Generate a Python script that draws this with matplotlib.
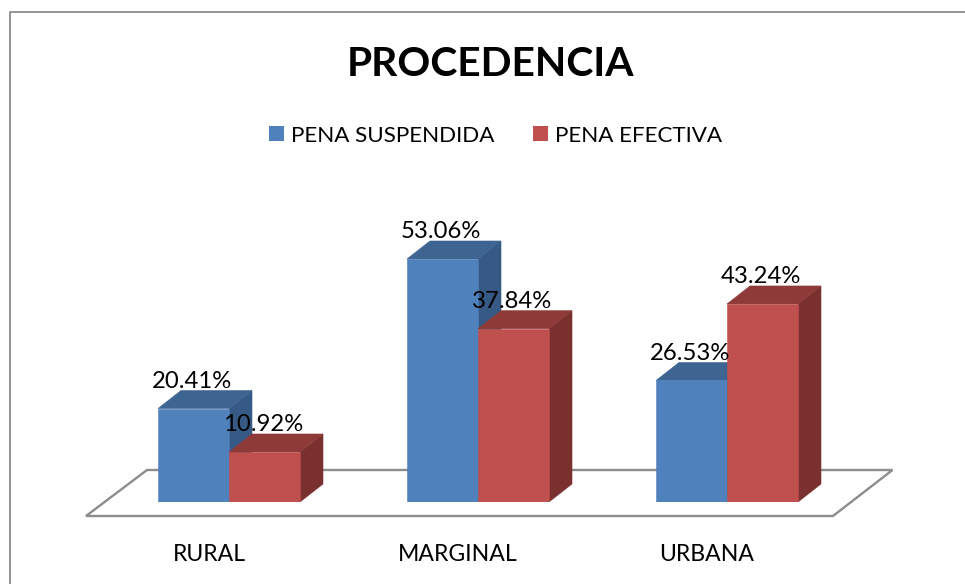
import matplotlib
matplotlib.use("Agg")
import matplotlib.pyplot as plt
from matplotlib.patches import Polygon, Patch
from matplotlib.lines import Line2D

categories = ["RURAL", "MARGINAL", "URBANA"]
suspendida = [20.41, 53.06, 26.53]
efectiva = [10.92, 37.84, 43.24]
series_names = ["PENA SUSPENDIDA", "PENA EFECTIVA"]
title = "PROCEDENCIA"

W, H = 965, 584
PX_PER_CAT = 249.0
PX_PER_PCT = 4.58
X0_PX = 229.0
BASE_PX = 502.0
FONT = "Lato"

plt.rcParams["font.family"] = [FONT, "DejaVu Sans"]
fig = plt.figure(figsize=(W / 100, H / 100), dpi=100, facecolor="white")
ax = fig.add_axes([0, (H - BASE_PX) / H, 1, BASE_PX / H])
ax.set_xlim(-X0_PX / PX_PER_CAT, (W - X0_PX) / PX_PER_CAT)
ax.set_ylim(0, BASE_PX / PX_PER_PCT)
ax.patch.set_visible(False)
for s in ax.spines.values():
    s.set_visible(False)
ax.yaxis.set_visible(False)

bw = 71 / PX_PER_CAT
dx = 23 / PX_PER_CAT
dy = 18 / PX_PER_PCT


def px_x(p):
    return (p - X0_PX) / PX_PER_CAT


def px_y(p):
    return (BASE_PX - p) / PX_PER_PCT


floor = [(px_x(86), px_y(516)), (px_x(833), px_y(516)), (px_x(892.5), px_y(470)), (px_x(147), px_y(470))]
ax.add_patch(Polygon(floor, closed=True, fc="white", ec="#8c8c8c", lw=1.7, clip_on=False, zorder=1))


def bar3d(x, v, front, top, side, z):
    ax.add_patch(Polygon([(x + bw, 0), (x + bw + dx, dy), (x + bw + dx, v + dy), (x + bw, v)],
                         fc=side, ec=side, lw=0.4, zorder=z))
    ax.add_patch(Polygon([(x, v), (x + dx, v + dy), (x + bw + dx, v + dy), (x + bw, v)],
                         fc=top, ec=top, lw=0.4, zorder=z))
    ax.bar(x, v, width=bw, align="edge", color=front, edgecolor=front, zorder=z + 0.1, linewidth=0.4)


for i, (a, b) in enumerate(zip(suspendida, efectiva)):
    bar3d(i - bw, a, "#4F81BD", "#3E6491", "#365A85", 2 + i)
    bar3d(i, b, "#C0504D", "#8E3A38", "#7A302E", 2.3 + i)

for i, (a, b) in enumerate(zip(suspendida, efectiva)):
    for x, v in ((i - bw / 2, a), (i + bw / 2, b)):
        ax.annotate(f"{v:.2f}%", (x, v), xytext=(-1, 19.5), textcoords="offset points",
                    ha="center", va="center", fontsize=17.2, color="black", zorder=10)

ax.set_xticks([i - 20 / PX_PER_CAT for i in range(len(categories))], categories)
ax.tick_params(axis="x", length=0, pad=30, labelsize=16.6, labelcolor="black")

handles = [Patch(fc="#4F81BD", ec="none"), Patch(fc="#C0504D", ec="none")]
fig.legend(handles, series_names, ncol=2, loc="center", bbox_to_anchor=(495.5 / W, 1 - 135.5 / H),
           frameon=False, fontsize=16.1, handlelength=0.67, handleheight=0.67,
           handletextpad=0.31, columnspacing=1.7, borderpad=0)

fig.text(490.5 / W, 1 - 64 / H, title, ha="center", va="center", fontsize=29.3, fontweight="bold", color="black")

fig.add_artist(Line2D([10 / W, 10 / W, 1], [0, 1 - 11.5 / H, 1 - 11.5 / H], color="#8c8c8c", lw=1.3,
                      transform=fig.transFigure))

fig.savefig("out.png", dpi=100, facecolor="white")
